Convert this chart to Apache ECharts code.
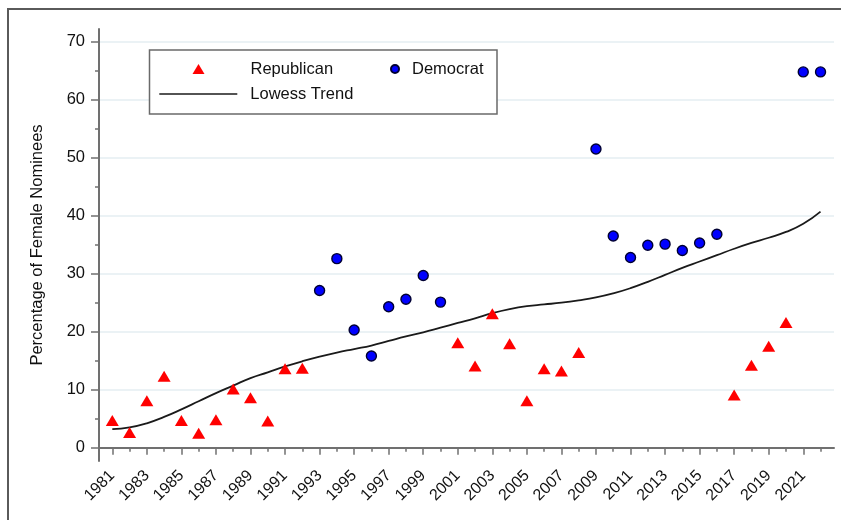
<!DOCTYPE html>
<html>
<head>
<meta charset="utf-8">
<script src="https://cdn.jsdelivr.net/npm/echarts@6/dist/echarts.min.js"></script>
<style>
  html, body { margin: 0; padding: 0; background: #fff; }
  #chart { width: 841px; height: 520px; }
</style>
</head>
<body>
<div id="chart"></div>
<script>
// Share of female nominees by year and party, with a lowess trend
const repYears = [1981, 1982, 1983, 1984, 1985, 1986, 1987, 1988, 1989, 1990, 1991, 1992,
                  2001, 2002, 2003, 2004, 2005, 2006, 2007, 2008,
                  2017, 2018, 2019, 2020];
const repValues = [4.7, 2.6, 8.1, 12.3, 4.7, 2.5, 4.8, 10.1, 8.6, 4.6, 13.6, 13.7,
                   18.1, 14.1, 23.1, 17.9, 8.1, 13.6, 13.2, 16.4,
                   9.1, 14.2, 17.5, 21.6];

const demYears = [1993, 1994, 1995, 1996, 1997, 1998, 1999, 2000,
                  2009, 2010, 2011, 2012, 2013, 2014, 2015, 2016,
                  2021, 2022];
const demValues = [27.1, 32.6, 20.3, 15.8, 24.3, 25.6, 29.7, 25.1,
                   51.5, 36.5, 32.8, 34.9, 35.1, 34.0, 35.3, 36.8,
                   64.8, 64.8];

const trendYears = [1981, 1982, 1983, 1984, 1985, 1986, 1987, 1988, 1989, 1990, 1991,
                    1992, 1993, 1994, 1995, 1996, 1997, 1998, 1999, 2000, 2001, 2002,
                    2003, 2004, 2005, 2006, 2007, 2008, 2009, 2010, 2011, 2012, 2013,
                    2014, 2015, 2016, 2017, 2018, 2019, 2020, 2021, 2022];
const trendValues = [3.2, 3.5, 4.2, 5.3, 6.6, 8.0, 9.4, 10.7, 12.0, 13.0, 14.0,
                     14.9, 15.7, 16.4, 17.0, 17.6, 18.4, 19.2, 19.9, 20.7, 21.5, 22.3,
                     23.2, 23.9, 24.4, 24.7, 25.0, 25.4, 25.9, 26.6, 27.5, 28.6, 29.8,
                     31.0, 32.1, 33.2, 34.3, 35.3, 36.2, 37.2, 38.6, 40.7];

const yLabelValues = [0, 10, 20, 30, 40, 50, 60, 70];
const yMinorValues = [5, 15, 25, 35, 45, 55, 65];
const xLabelValues = [1981, 1983, 1985, 1987, 1989, 1991, 1993, 1995, 1997, 1999, 2001,
                      2003, 2005, 2007, 2009, 2011, 2013, 2015, 2017, 2019, 2021];
const xMinorValues = [1982, 1984, 1986, 1988, 1990, 1992, 1994, 1996, 1998, 2000, 2002,
                      2004, 2006, 2008, 2010, 2012, 2014, 2016, 2018, 2020, 2022];

const pair = (xs, ys) => xs.map((x, i) => [x, ys[i]]);

const FONT = "'Liberation Sans', Arial, Helvetica, sans-serif";
const AXIS_COLOR = '#707070';
const X_MIN = 1980.23, X_MAX = 2022.78;
const Y_MIN = -2.3, Y_MAX = 72.2;

const chart = echarts.init(document.getElementById('chart'), null, { renderer: 'canvas' });

const legendText = { fontFamily: FONT, fontSize: 16.5, color: '#111', lineHeight: 18 };

chart.setOption({
  animation: false,
  backgroundColor: '#ffffff',
  grid: { left: 99, top: 29, right: 7, bottom: 59, containLabel: false },
  graphic: [
    {
      type: 'rect', z: 0, silent: true,
      shape: { x: 8, y: 9, width: 900, height: 600 },
      style: { fill: 'none', stroke: '#5a5a5a', lineWidth: 2 }
    },
    {
      type: 'rect', z: 10, silent: true,
      shape: { x: 149.5, y: 50, width: 347.5, height: 64 },
      style: { fill: '#ffffff', stroke: '#6a6a6a', lineWidth: 1.5 }
    }
  ],
  legend: [
    {
      z: 12, padding: 0, left: 192.5, top: 60,
      data: ['Republican'], itemWidth: 12, itemHeight: 10, selectedMode: false,
      textStyle: Object.assign({ padding: [0, 0, 0, 41] }, legendText)
    },
    {
      z: 12, padding: 0, left: 390, top: 60,
      data: ['Democrat'], itemWidth: 8, itemHeight: 8, selectedMode: false,
      textStyle: Object.assign({ padding: [0, 0, 0, 8] }, legendText)
    },
    {
      z: 12, padding: 0, left: 159.3, top: 85,
      data: ['Lowess Trend'], icon: 'rect', itemWidth: 78, itemHeight: 1.6, selectedMode: false,
      textStyle: Object.assign({ padding: [0, 0, 0, 8] }, legendText)
    }
  ],
  xAxis: [
    {
      type: 'value', position: 'bottom', min: X_MIN, max: X_MAX,
      axisLine: { show: true, lineStyle: { color: AXIS_COLOR, width: 2 } },
      axisTick: { show: true, customValues: xLabelValues, length: 7, lineStyle: { color: AXIS_COLOR, width: 1.5 } },
      axisLabel: {
        customValues: xLabelValues, rotate: 45, margin: 12,
        fontFamily: FONT, fontSize: 16, color: '#111',
        formatter: v => String(Math.round(v))
      },
      splitLine: { show: false }
    },
    {
      type: 'value', position: 'bottom', offset: 0, min: X_MIN, max: X_MAX,
      axisLine: { show: false },
      axisTick: { show: true, customValues: xMinorValues, length: 4, lineStyle: { color: AXIS_COLOR, width: 1.5 } },
      axisLabel: { show: false },
      splitLine: { show: false }
    }
  ],
  yAxis: [
    {
      type: 'value', position: 'left', min: Y_MIN, max: Y_MAX,
      name: 'Percentage of Female Nominees', nameLocation: 'middle', nameRotate: 90, nameGap: 53,
      nameTextStyle: { fontFamily: FONT, fontSize: 16.5, color: '#111' },
      axisLine: { show: true, lineStyle: { color: AXIS_COLOR, width: 2 } },
      axisTick: { show: true, customValues: yLabelValues, length: 8, lineStyle: { color: AXIS_COLOR, width: 1.5 } },
      axisLabel: {
        customValues: yLabelValues, margin: 14,
        fontFamily: FONT, fontSize: 16.5, color: '#111',
        formatter: v => String(Math.round(v))
      },
      splitLine: { show: true, lineStyle: { color: '#e4eef2', width: 1.5 } }
    },
    {
      type: 'value', position: 'left', offset: 0, min: Y_MIN, max: Y_MAX,
      axisLine: { show: false },
      axisTick: { show: true, customValues: yMinorValues, length: 4, lineStyle: { color: AXIS_COLOR, width: 1.5 } },
      axisLabel: { show: false },
      splitLine: { show: false }
    }
  ],
  series: [
    {
      name: 'Lowess Trend', type: 'line', xAxisIndex: 0, yAxisIndex: 0,
      data: pair(trendYears, trendValues),
      smooth: true, showSymbol: false, symbol: 'none', z: 3,
      lineStyle: { color: '#1a1a1a', width: 1.8 },
      itemStyle: { color: '#1a1a1a' }
    },
    {
      name: 'Republican', type: 'scatter', xAxisIndex: 0, yAxisIndex: 0,
      data: pair(repYears, repValues),
      symbol: 'triangle', symbolSize: [13, 11], z: 4,
      itemStyle: { color: '#ff0000', opacity: 1 }
    },
    {
      name: 'Democrat', type: 'scatter', xAxisIndex: 0, yAxisIndex: 0,
      data: pair(demYears, demValues),
      symbol: 'circle', symbolSize: 10, z: 4,
      itemStyle: { color: '#0000ff', borderColor: '#000033', borderWidth: 1.4, opacity: 1 }
    }
  ]
});
</script>
</body>
</html>
